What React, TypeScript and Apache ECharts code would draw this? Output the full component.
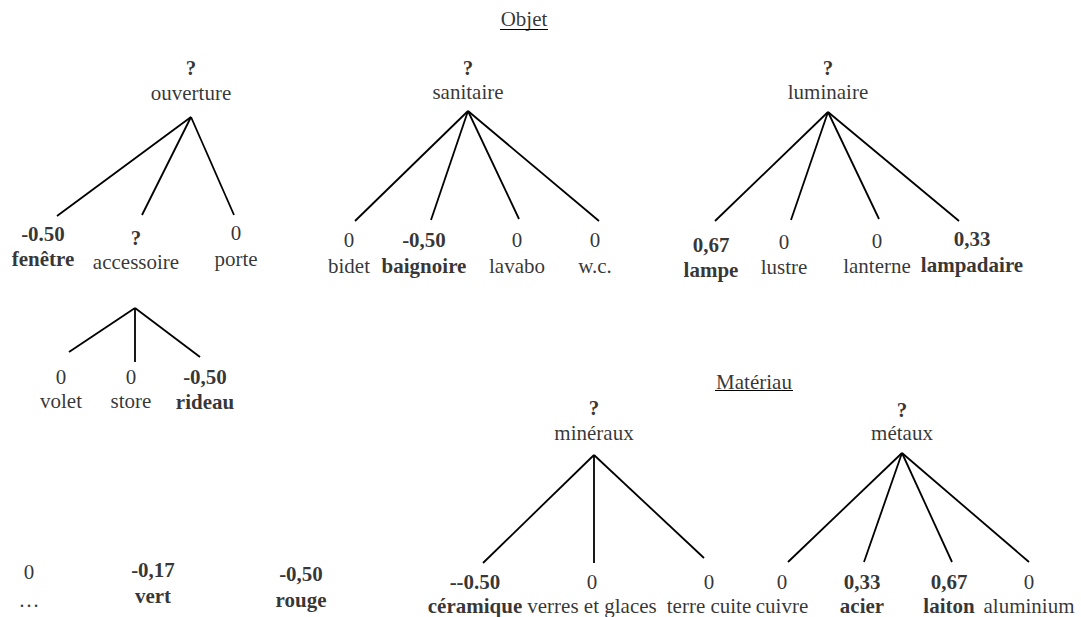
import React, { useEffect, useRef } from "react";
import * as echarts from "echarts";

// ---- data ----
const names = [
  "ouverture", "fenêtre", "accessoire", "porte", "volet", "store", "rideau",
  "…", "vert", "rouge",
  "sanitaire", "bidet", "baignoire", "lavabo", "w.c.",
  "luminaire", "lampe", "lustre", "lanterne", "lampadaire",
  "minéraux", "céramique", "verres et glaces", "terre cuite",
  "métaux", "cuivre", "acier", "laiton", "aluminium",
];
const scores = [
  "?", "-0.50", "?", "0", "0", "0", "-0,50",
  "0", "-0,17", "-0,50",
  "?", "0", "-0,50", "0", "0",
  "?", "0,67", "0", "0", "0,33",
  "?", "--0.50", "0", "0",
  "?", "0", "0,33", "0,67", "0",
];
const parents = [
  -1, 0, 0, 0, 2, 2, 2,
  -1, -1, -1,
  -1, 10, 10, 10, 10,
  -1, 15, 15, 15, 15,
  -1, 20, 20, 20,
  -1, 24, 24, 24, 24,
];
const titles = ["Objet", "Matériau"];

// ---- layout (pixel positions) ----
const labelX = [191, 43, 136, 236, 61, 131, 205, 29, 153, 301, 468, 349, 424, 517, 595, 828, 711, 784, 877, 972, 594, 475, 592, 709, 902, 782, 862, 949, 1029];
const scoreY = [68, 234, 238, 233, 377, 377, 377, 572, 570, 574, 68, 240, 240, 240, 240, 68, 245, 242, 241, 239, 408, 582, 582, 582, 410, 582, 582, 582, 582];
const nameY = [93, 259, 262, 259, 401, 401, 402, 600, 596, 600, 92, 266, 266, 266, 266, 92, 270, 267, 266, 265, 433, 606, 606, 606, 433, 606, 606, 606, 606];
const tipX = [0, 57, 142, 234, 69, 135, 200, 0, 0, 0, 0, 355, 431, 519, 599, 0, 715, 791, 879, 959, 0, 483, 594, 704, 0, 788, 864, 952, 1029];
const tipY = [0, 216, 215, 215, 352, 362, 357, 0, 0, 0, 0, 221, 220, 219, 221, 0, 221, 220, 219, 221, 0, 563, 563, 558, 0, 562, 562, 562, 562];
const hubX = [191, 0, 135, 0, 0, 0, 0, 0, 0, 0, 468, 0, 0, 0, 0, 828, 0, 0, 0, 0, 594, 0, 0, 0, 902, 0, 0, 0, 0];
const hubY = [117, 0, 308, 0, 0, 0, 0, 0, 0, 0, 111, 0, 0, 0, 0, 112, 0, 0, 0, 0, 455, 0, 0, 0, 453, 0, 0, 0, 0];
const titleX = [524, 754];
const titleY = [19, 382];
const underlineY = [29, 390];
const underlineHalf = [24, 39];

const W = 1081;
const H = 617;
const FONT = "Liberation Serif";

const isScored = (s: string) => s !== "?" && s !== "0";

export default function App() {
  const ref = useRef<HTMLDivElement>(null);
  useEffect(() => {
    if (!ref.current) return;
    const chart = echarts.init(ref.current, null, { renderer: "svg" });

    const textData: any[] = [];
    names.forEach((n, i) => {
      textData.push({
        name: scores[i],
        value: [labelX[i], scoreY[i]],
        label: { fontWeight: scores[i] === "0" ? "normal" : "bold" },
      });
      textData.push({
        name: n,
        value: [labelX[i], nameY[i]],
        label: { fontWeight: isScored(scores[i]) ? "bold" : "normal" },
      });
    });
    titles.forEach((t, i) => {
      textData.push({ name: t, value: [titleX[i], titleY[i]], label: { fontWeight: "normal" } });
    });

    const edges: any[] = [];
    parents.forEach((p, i) => {
      if (p >= 0) edges.push({ coords: [[hubX[p], hubY[p]], [tipX[i], tipY[i]]] });
    });
    const underlines = titles.map((_, i) => ({
      coords: [
        [titleX[i] - underlineHalf[i], underlineY[i]],
        [titleX[i] + underlineHalf[i], underlineY[i]],
      ],
    }));

    chart.setOption({
      animation: false,
      backgroundColor: "#ffffff",
      grid: { left: 0, right: 0, top: 0, bottom: 0 },
      xAxis: { type: "value", min: 0, max: W, show: false },
      yAxis: { type: "value", min: 0, max: H, inverse: true, show: false },
      series: [
        {
          type: "lines",
          coordinateSystem: "cartesian2d",
          data: edges,
          lineStyle: { color: "#000", width: 1.8, opacity: 1, curveness: 0 },
          silent: true,
        },
        {
          type: "lines",
          coordinateSystem: "cartesian2d",
          data: underlines,
          lineStyle: { color: "#000", width: 1.2, opacity: 1, curveness: 0 },
          silent: true,
        },
        {
          type: "scatter",
          data: textData,
          symbolSize: 1,
          itemStyle: { color: "rgba(0,0,0,0)" },
          label: {
            show: true,
            position: "inside",
            formatter: "{b}",
            color: "#000",
            fontFamily: FONT,
            fontSize: 21,
            align: "center",
            verticalAlign: "middle",
          },
          silent: true,
        },
      ],
    });
    return () => chart.dispose();
  }, []);
  return (
    <div
      ref={ref}
      style={{ position: "fixed", left: 0, top: 0, width: W, height: H, background: "#fff" }}
    />
  );
}
